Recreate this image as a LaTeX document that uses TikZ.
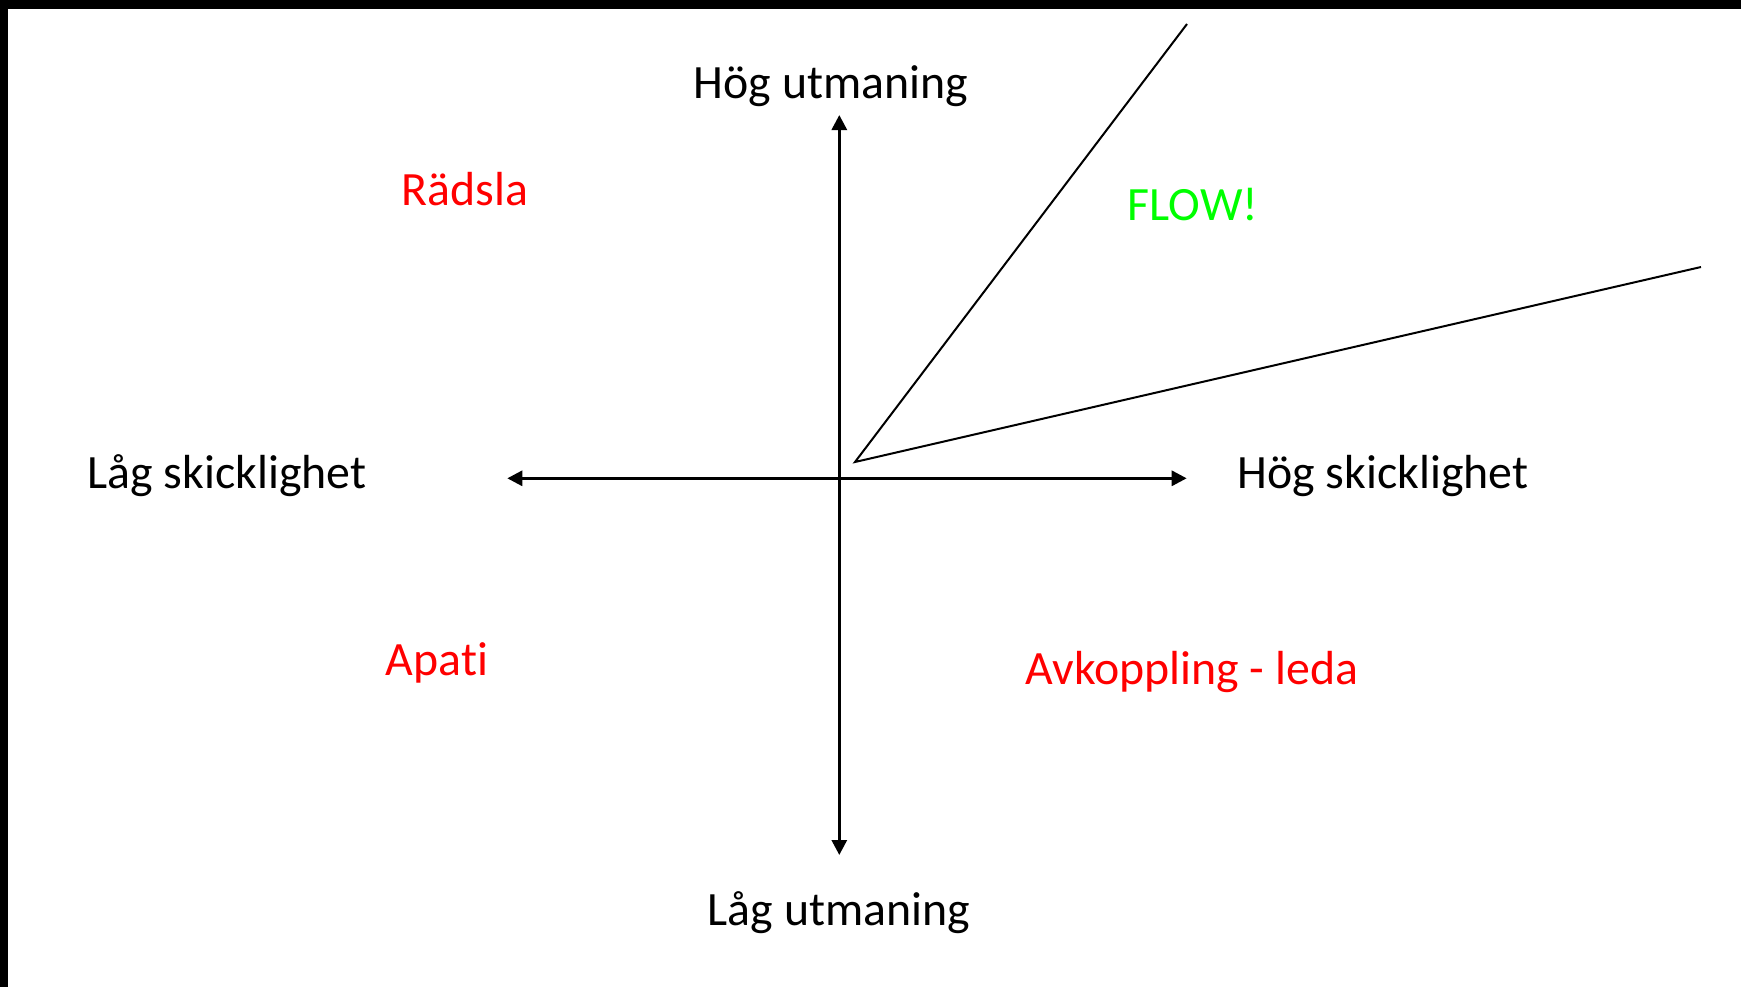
\documentclass[tikz,border=0pt]{standalone}
\usepackage{fontspec}
\setmainfont{Carlito}[Ligatures=NoCommon]
\usetikzlibrary{arrows.meta}
\definecolor{flowgreen}{RGB}{0,255,0}
\definecolor{zonered}{RGB}{255,0,0}
\tikzset{
  axis/.style={line width=3bp, -{Triangle[length=15bp,width=15bp]}},
  flowline/.style={line width=2bp},
  lbl/.style={anchor=base, inner sep=0pt, font=\fontsize{48}{58}\selectfont},
  zone/.style={lbl, text=zonered},
}
\begin{document}
\begin{tikzpicture}[x=1bp,y=-1bp]
\useasboundingbox (0,0) rectangle (1741,987);
\fill[white] (0,0) rectangle (1741,987);
\fill[black] (0,0) rectangle (1741,9);
\fill[black] (0,0) rectangle (8,987);

\coordinate (O) at (839.3,478.3);
\coordinate (top) at (839.3,115);
\coordinate (bottom) at (839.3,855);
\coordinate (left) at (507.3,478.3);
\coordinate (right) at (1186.7,478.3);
\coordinate (apex) at (855,462);
\coordinate (upper) at (1187,24);
\coordinate (lower) at (1701,267);

\draw[axis] (O) -- (top);
\draw[axis] (O) -- (bottom);
\draw[axis] (O) -- (left);
\draw[axis] (O) -- (right);

\draw[flowline, line join=miter] (upper) -- (apex) -- (lower);

\node[lbl] (hu) at (831,98.5) {Hög utmaning};
\node[lbl] (lu) at (839,925.5) {Låg utmaning};
\node[lbl] (ls) at (227,488.5) {Låg skicklighet};
\node[lbl] (hs) at (1383,488.5) {Hög skicklighet};

\node[zone] (radsla) at (465,205.5) {Rädsla};
\node[lbl, text=flowgreen] (flow) at (1193,220) {FLOW!};
\node[zone] (apati) at (437,675) {Apati};
\node[zone] (avk) at (1192,684) {Avkoppling - leda};
\end{tikzpicture}
\end{document}
